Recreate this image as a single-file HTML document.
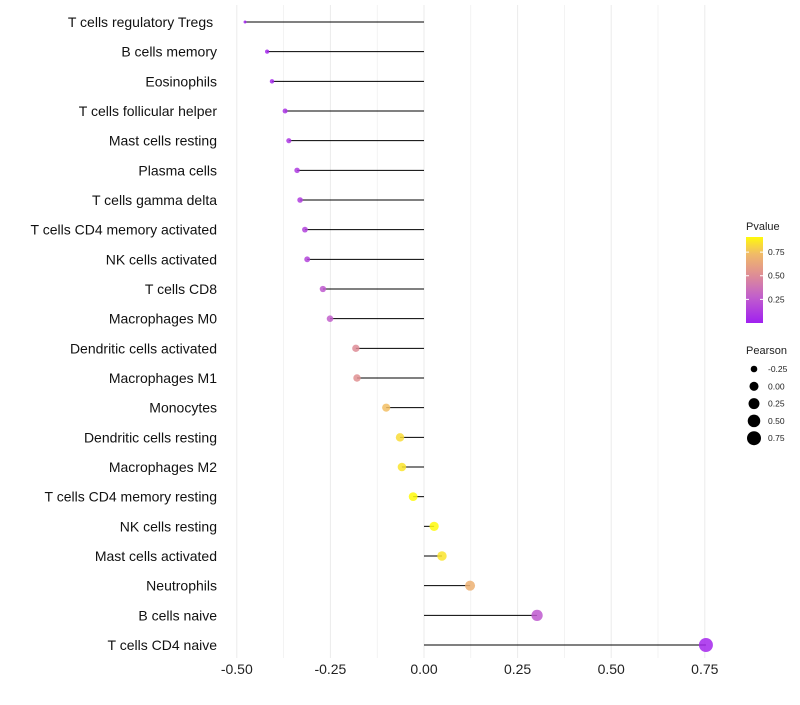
<!DOCTYPE html>
<html><head><meta charset="utf-8"><style>
body{margin:0;background:#fff;font-family:"Liberation Sans",sans-serif}
</style></head><body>
<svg id="chart" width="800" height="700" xmlns="http://www.w3.org/2000/svg" font-family="Liberation Sans, sans-serif"></svg>
<script>
const categories=["T cells regulatory  Tregs\u00a0","B cells memory","Eosinophils","T cells follicular helper","Mast cells resting","Plasma cells","T cells gamma delta","T cells CD4 memory activated","NK cells activated","T cells CD8","Macrophages M0","Dendritic cells activated","Macrophages M1","Monocytes","Dendritic cells resting","Macrophages M2","T cells CD4 memory resting","NK cells resting","Mast cells activated","Neutrophils","B cells naive","T cells CD4 naive"];
const pearson=[-0.478,-0.419,-0.406,-0.371,-0.361,-0.339,-0.331,-0.318,-0.312,-0.270,-0.251,-0.182,-0.179,-0.101,-0.064,-0.059,-0.029,0.027,0.048,0.123,0.302,0.753];
const pvalue=[0.01,0.03,0.04,0.08,0.10,0.12,0.13,0.15,0.16,0.25,0.28,0.50,0.52,0.75,0.83,0.85,0.91,0.91,0.85,0.68,0.25,0.03];
const xTicks=[-0.5,-0.25,0,0.25,0.5,0.75];
const xTickLabels=["-0.50","-0.25","0.00","0.25","0.50","0.75"];
const pTicks=[0.25,0.5,0.75];
const pTickLabels=["0.25","0.50","0.75"];
const sizeBreaks=[-0.25,0,0.25,0.5,0.75];
const sizeLabels=["-0.25","0.00","0.25","0.50","0.75"];

const svg=document.getElementById('chart');
const NS="http://www.w3.org/2000/svg";
function mk(tag,attrs,parent){const e=document.createElementNS(NS,tag);for(const k in attrs)e.setAttribute(k,attrs[k]);(parent||svg).appendChild(e);return e;}
const x=v=>424+v*374.4;
const y=i=>22+i*((645-22)/(categories.length-1));
const rr=v=>Math.sqrt(Math.max(0.5,2.25+(v+0.478)*37.98));
const stops=[[0,[160,32,240]],[0.3,[196,100,200]],[0.5,[222,140,150]],[0.75,[242,190,100]],[0.91,[255,250,10]]];
function col(p){p=Math.max(0,Math.min(0.91,p));for(let i=0;i<stops.length-1;i++){const a=stops[i],b=stops[i+1];if(p<=b[0]){const t=(p-a[0])/(b[0]-a[0]);const c=a[1].map((v,j)=>Math.round(v+(b[1][j]-v)*t));return `rgb(${c.join(',')})`;}}return 'rgb(255,250,10)';}

for(let v=-0.5;v<=0.76;v+=0.125){
  const g=mk('line',{x1:x(v),x2:x(v),y1:5,y2:658,stroke:'#ebebeb','stroke-width':Math.abs((v*4)%1)<0.01?1:0.6});
  
  
}
xTicks.forEach((v,i)=>{
  const t=mk('text',{x:x(v),y:674,'text-anchor':'middle','font-size':14,fill:'#222'});
  t.textContent=xTickLabels[i];
  
  
});
categories.forEach((c,i)=>{
  const t=mk('text',{x:217,y:y(i)+5,'text-anchor':'end','font-size':14,fill:'#111'});
  t.textContent=c;
  
  
  const l=mk('line',{x1:x(0),x2:x(pearson[i]),y1:y(i),y2:y(i),stroke:'#000','stroke-width':1});
  
  
  const p=mk('circle',{cx:x(pearson[i]),cy:y(i),r:rr(pearson[i]),fill:col(pvalue[i]),'fill-opacity':0.85});
  
  
});
const lt=mk('text',{x:746,y:230,'font-size':11,fill:'#222'});lt.textContent='Pvalue';


const defs=mk('defs',{});
const lg=mk('linearGradient',{id:'pg',x1:0,y1:1,x2:0,y2:0},defs);
for(let k=0;k<=10;k++){mk('stop',{offset:k/10,'stop-color':col(k/10*0.91)},lg);}
const bar=mk('rect',{x:746,y:237,width:17,height:86,fill:'url(#pg)'});


const py=p=>323-p*(86/0.91);
pTicks.forEach((p,i)=>{
  mk('line',{x1:746,x2:749,y1:py(p),y2:py(p),stroke:'#fff'});
  mk('line',{x1:760,x2:763,y1:py(p),y2:py(p),stroke:'#fff'});
  const t=mk('text',{x:768,y:py(p)+3,'font-size':8.5,fill:'#222'});t.textContent=pTickLabels[i];
  
  
});
const st=mk('text',{x:746,y:354,'font-size':11,fill:'#222'});st.textContent='Pearson';


sizeBreaks.forEach((v,i)=>{
  const cy=369+i*17.3;
  const c=mk('circle',{cx:754,cy:cy,r:rr(v),fill:'#000'});
  
  
  const t=mk('text',{x:768,y:cy+3,'font-size':8.5,fill:'#222'});t.textContent=sizeLabels[i];
  
  
});
</script>
</body></html>
